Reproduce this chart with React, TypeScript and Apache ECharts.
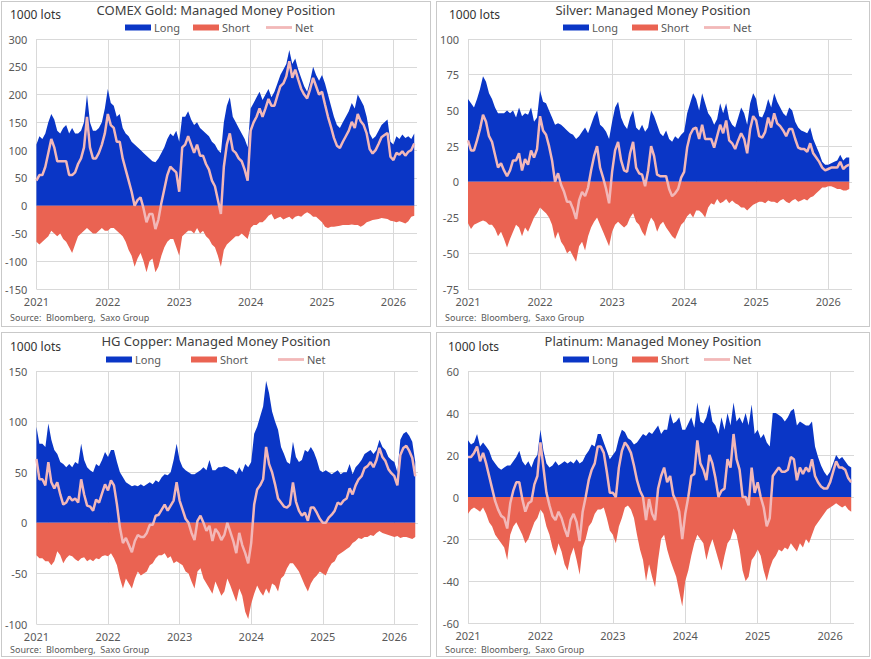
import React, { useEffect, useRef } from "react";
import * as echarts from "echarts";

// Semi-monthly observations (1st and mid-month), Jan 2021 – Apr 2026, in 1000 lots
const FIRST_YEAR = 2021;
const PER_YEAR = 24;
const AXIS_END = 2026.33;

const goldLong = [
  110, 125, 120, 130, 150, 165, 155, 135, 130, 140, 145, 130, 140, 130, 130, 135, 150, 200, 150, 135, 135, 140, 150, 175,
  210, 185, 180, 160, 165, 140, 130, 125, 115, 110, 105, 100, 95, 90, 85, 80, 78, 85, 95, 105, 120, 130, 125, 135,
  115, 160, 160, 170, 155, 145, 150, 140, 135, 130, 125, 115, 110, 100, 95, 150, 180, 195, 160, 150, 140, 130, 120, 105,
  175, 185, 195, 205, 190, 200, 210, 195, 205, 220, 235, 245, 255, 280, 255, 265, 245, 230, 215, 205, 225, 250, 235, 225,
  235, 220, 200, 180, 160, 145, 140, 150, 160, 170, 185, 175, 200, 190, 180, 160, 130, 120, 125, 135, 145, 150, 155, 115,
  110, 125, 120, 128, 122, 125, 120, 130,
];
const goldShort = [
  -65, -70, -65, -60, -55, -45, -50, -55, -50, -60, -65, -75, -85, -70, -55, -50, -45, -40, -45, -50, -50, -45, -40, -45,
  -45, -40, -40, -45, -50, -55, -65, -80, -90, -110, -95, -85, -100, -120, -100, -95, -120, -110, -90, -75, -65, -60, -60, -75,
  -90, -55, -50, -45, -45, -50, -40, -50, -45, -55, -60, -70, -75, -90, -110, -80, -70, -65, -60, -55, -55, -50, -55, -60,
  -40, -35, -35, -30, -30, -25, -18, -15, -25, -22, -20, -25, -22, -20, -25, -20, -18, -20, -15, -12, -15, -20, -20, -25,
  -30, -38, -40, -38, -38, -37, -36, -35, -35, -35, -34, -35, -35, -38, -35, -30, -28, -26, -25, -24, -22, -23, -24, -27,
  -28, -30, -28, -30, -32, -28, -20, -18,
];

const silverLong = [
  58, 55, 52, 58, 65, 74, 70, 62, 58, 52, 48, 48, 48, 50, 48, 50, 45, 52, 46, 48, 47, 52, 42, 45,
  64, 56, 55, 50, 45, 40, 41, 40, 38, 36, 34, 33, 30, 32, 35, 38, 34, 40, 46, 50, 40, 38, 35, 30,
  42, 52, 56, 45, 40, 37, 45, 50, 38, 36, 40, 35, 38, 50, 46, 40, 34, 32, 36, 30, 28, 32, 30, 33,
  35, 48, 55, 62, 58, 50, 62, 55, 48, 45, 40, 44, 55, 48, 55, 44, 40, 38, 45, 52, 48, 40, 55, 62,
  58, 46, 45, 50, 58, 52, 62, 56, 52, 48, 46, 52, 50, 42, 38, 36, 35, 34, 38, 30, 25, 20, 14, 12,
  12, 13, 14, 15, 19, 15, 17, 17,
];
const silverShort = [
  -29, -33, -30, -29, -28, -27, -28, -30, -30, -33, -38, -35, -40, -46, -40, -35, -30, -32, -38, -32, -35, -30, -25, -22,
  -18, -20, -22, -25, -30, -40, -35, -42, -45, -50, -48, -52, -56, -45, -42, -48, -38, -32, -28, -25, -30, -35, -40, -45,
  -35, -30, -28, -30, -32, -30, -25, -22, -28, -30, -35, -38, -30, -25, -28, -35, -30, -28, -32, -35, -38, -40, -35, -30,
  -28, -24, -22, -25, -20, -20, -22, -25, -18, -15, -16, -12, -15, -14, -12, -15, -13, -15, -16, -18, -18, -20, -18, -16,
  -15, -14, -14, -15, -13, -14, -14, -15, -13, -12, -14, -15, -13, -12, -14, -13, -12, -13, -11, -10, -8, -6, -4, -4,
  -3, -3, -4, -5, -5, -6, -6, -5,
];

const copperLong = [
  95, 78, 78, 75, 98, 82, 72, 68, 60, 58, 55, 58, 55, 60, 58, 78, 62, 55, 52, 50, 58, 56, 62, 70,
  65, 72, 72, 60, 50, 45, 40, 38, 36, 37, 36, 38, 36, 38, 40, 38, 42, 40, 45, 48, 47, 50, 62, 78,
  62, 55, 52, 50, 48, 48, 50, 52, 55, 52, 62, 52, 52, 55, 55, 56, 55, 53, 52, 48, 55, 50, 58, 55,
  60, 88, 95, 105, 115, 140, 128, 110, 100, 92, 75, 68, 60, 58, 80, 65, 60, 62, 72, 70, 75, 70, 62, 52,
  50, 52, 50, 48, 50, 52, 48, 50, 50, 58, 48, 55, 58, 62, 68, 70, 72, 68, 72, 82, 75, 72, 65, 62,
  60, 50, 82, 88, 90, 86, 80, 60,
];
const copperShort = [
  -32, -35, -35, -38, -38, -42, -38, -28, -32, -40, -35, -32, -33, -36, -38, -35, -34, -38, -36, -38, -35, -36, -33, -32,
  -33, -30, -35, -42, -55, -65, -55, -60, -65, -55, -48, -52, -50, -48, -42, -40, -35, -32, -32, -30, -35, -33, -40, -38,
  -40, -42, -48, -50, -58, -65, -48, -45, -55, -60, -65, -70, -58, -65, -72, -68, -55, -62, -70, -78, -65, -72, -88, -95,
  -80, -70, -62, -68, -72, -65, -70, -60, -62, -68, -55, -52, -45, -40, -40, -44, -48, -55, -62, -68, -60, -55, -52, -48,
  -50, -52, -45, -40, -38, -32, -30, -28, -26, -24, -20, -18, -15, -16, -14, -14, -12, -13, -10, -8, -10, -11, -12, -13,
  -14, -13, -15, -14, -14, -15, -16, -14,
];

const platinumLong = [
  27, 25, 26, 30, 24, 26, 24, 22, 18, 16, 14, 13, 14, 15, 15, 17, 19, 22, 17, 15, 17, 14, 18, 20,
  32, 22, 16, 14, 15, 17, 15, 16, 17, 16, 17, 16, 18, 16, 17, 20, 22, 25, 24, 30, 30, 26, 22, 18,
  20, 22, 28, 32, 31, 28, 27, 25, 26, 28, 30, 29, 31, 30, 32, 34, 30, 32, 32, 40, 35, 36, 38, 32,
  32, 35, 38, 33, 45, 36, 35, 38, 44, 36, 34, 30, 38, 32, 40, 34, 45, 36, 38, 35, 40, 34, 44, 30,
  32, 28, 30, 26, 24, 40, 40, 39, 38, 36, 38, 41, 42, 34, 36, 35, 34, 34, 36, 24, 19, 15, 12, 10,
  12, 16, 20, 18, 19, 17, 15, 14,
];
const platinumShort = [
  -8, -6, -5, -6, -7, -5, -8, -12, -14, -18, -20, -22, -24, -30, -18, -14, -12, -15, -18, -22, -20, -16, -12, -10,
  -6, -8, -14, -18, -24, -28, -22, -26, -32, -35, -28, -24, -30, -37, -24, -20, -14, -12, -8, -6, -6, -5, -10, -16,
  -18, -22, -14, -10, -5, -4, -6, -10, -18, -25, -30, -40, -32, -38, -43, -30, -20, -18, -25, -30, -34, -38, -45, -52,
  -40, -35, -28, -22, -18, -20, -22, -30, -24, -20, -25, -30, -35, -28, -22, -20, -15, -18, -25, -35, -40, -38, -30, -28,
  -25, -28, -35, -40, -34, -30, -28, -25, -26, -24, -25, -22, -24, -26, -22, -24, -20, -22, -18, -14, -12, -10, -8, -6,
  -5, -4, -3, -4, -5, -4, -6, -7,
];

const SERIES_NAMES = ["Long", "Short", "Net"];
const UNIT_LABEL = "1000 lots";
const SOURCE_LABEL = "Source:  Bloomberg,  Saxo Group";

const LONG_COLOR = "#0a36c6";
const SHORT_COLOR = "#ea6352";
const NET_COLOR = "#f2b8b8";
const GRID_COLOR = "#d9d9d9";
const TEXT_COLOR = "#595959";
const FONT = '"Noto Sans", "Open Sans", Arial, sans-serif';

type PanelCfg = {
  title: string;
  long: number[];
  short: number[];
  yMin: number;
  yMax: number;
  yStep: number;
  box: { x: number; y: number; w: number; h: number };
  grid: { left: number; top: number; width: number; height: number };
  legendLeft: number[];
  legendTop: number;
  unitX: number;
  unitY: number;
  sourceY: number;
};

const PANELS: PanelCfg[] = [
  {
    title: "COMEX Gold: Managed Money Position",
    long: goldLong,
    short: goldShort,
    yMin: -150,
    yMax: 300,
    yStep: 50,
    box: { x: 1, y: 1, w: 430, h: 326 },
    grid: { left: 33, top: 37, width: 382, height: 250 },
    legendLeft: [123, 191, 264],
    legendTop: 20,
    unitX: 8,
    unitY: 14,
    sourceY: 315,
  },
  {
    title: "Silver: Managed Money Position",
    long: silverLong,
    short: silverShort,
    yMin: -75,
    yMax: 100,
    yStep: 25,
    box: { x: 436, y: 1, w: 434, h: 326 },
    grid: { left: 31, top: 37, width: 384, height: 250 },
    legendLeft: [126, 195, 267],
    legendTop: 20,
    unitX: 12,
    unitY: 14,
    sourceY: 315,
  },
  {
    title: "HG Copper: Managed Money Position",
    long: copperLong,
    short: copperShort,
    yMin: -100,
    yMax: 150,
    yStep: 50,
    box: { x: 1, y: 332, w: 430, h: 325 },
    grid: { left: 33, top: 38, width: 383, height: 253 },
    legendLeft: [104, 189, 276],
    legendTop: 21,
    unitX: 8,
    unitY: 15,
    sourceY: 316,
  },
  {
    title: "Platinum: Managed Money Position",
    long: platinumLong,
    short: platinumShort,
    yMin: -60,
    yMax: 60,
    yStep: 20,
    box: { x: 436, y: 332, w: 434, h: 325 },
    grid: { left: 31, top: 38, width: 386, height: 252 },
    legendLeft: [126, 195, 267],
    legendTop: 21,
    unitX: 11,
    unitY: 15,
    sourceY: 316,
  },
];

function buildOption(cfg: PanelCfg) {
  const xs = cfg.long.map((_, i) => FIRST_YEAR + i / PER_YEAR);
  const longData = cfg.long.map((v, i) => [xs[i], v]);
  const shortData = cfg.short.map((v, i) => [xs[i], v]);
  const netData = cfg.long.map((v, i) => [xs[i], v + cfg.short[i]]);

  const legendCommon = {
    top: cfg.legendTop,
    padding: 0,
    itemWidth: 26,
    itemHeight: 6,
    selectedMode: false,
    textStyle: { color: TEXT_COLOR, fontSize: 11, fontFamily: FONT, padding: [0, 0, 0, -2] },
  };
  const icons = ["rect", "rect", "path://M0 0H26V2.8H0Z"];

  return {
    animation: false,
    backgroundColor: "#ffffff",
    textStyle: { fontFamily: FONT },
    title: {
      text: cfg.title,
      left: "center",
      top: 1,
      padding: 0,
      textStyle: { color: "#404040", fontSize: 13, fontWeight: "normal", fontFamily: FONT },
    },
    legend: SERIES_NAMES.map((name, k) => ({
      ...legendCommon,
      left: cfg.legendLeft[k],
      data: [{ name, icon: icons[k] }],
    })),
    grid: { ...cfg.grid, containLabel: false },
    xAxis: {
      type: "value",
      min: FIRST_YEAR,
      max: AXIS_END,
      interval: 1,
      axisLine: { show: false },
      axisTick: { show: false },
      splitLine: { show: true, showMaxLine: false, lineStyle: { color: GRID_COLOR, width: 1 } },
      axisLabel: {
        color: TEXT_COLOR,
        fontSize: 11,
        lineHeight: 13,
        margin: 6,
        formatter: (v: number) => (Math.abs(v - Math.round(v)) < 1e-6 ? String(Math.round(v)) : ""),
      },
    },
    yAxis: {
      type: "value",
      min: cfg.yMin,
      max: cfg.yMax,
      interval: cfg.yStep,
      axisLine: { show: false },
      axisTick: { show: false },
      splitLine: { show: true, lineStyle: { color: GRID_COLOR, width: 1 } },
      axisLabel: { color: TEXT_COLOR, fontSize: 11, margin: 9 },
    },
    graphic: [
      {
        type: "text",
        left: cfg.unitX,
        top: cfg.unitY - 8,
        style: { text: UNIT_LABEL, fill: "#333333", fontSize: 12, fontFamily: FONT },
      },
      {
        type: "text",
        left: 8,
        top: cfg.sourceY - 5.5,
        style: { text: SOURCE_LABEL, fill: TEXT_COLOR, fontSize: 9, lineHeight: 11, fontFamily: FONT },
      },
    ],
    series: [
      {
        name: "Long",
        type: "line",
        data: longData,
        symbol: "none",
        lineStyle: { width: 0 },
        itemStyle: { color: LONG_COLOR },
        areaStyle: { color: LONG_COLOR, opacity: 1 },
        z: 1,
      },
      {
        name: "Short",
        type: "line",
        data: shortData,
        symbol: "none",
        lineStyle: { width: 0 },
        itemStyle: { color: SHORT_COLOR },
        areaStyle: { color: SHORT_COLOR, opacity: 1 },
        z: 1,
      },
      {
        name: "Net",
        type: "line",
        data: netData,
        symbol: "none",
        lineStyle: { width: 2.5, color: NET_COLOR },
        itemStyle: { color: NET_COLOR },
        z: 3,
      },
    ],
  };
}

function Panel({ cfg }: { cfg: PanelCfg }) {
  const ref = useRef<HTMLDivElement>(null);
  useEffect(() => {
    if (!ref.current) return;
    const chart = echarts.init(ref.current, null, { renderer: "svg" });
    chart.setOption(buildOption(cfg) as any);
    return () => chart.dispose();
  }, [cfg]);
  return (
    <div
      style={{
        position: "absolute",
        left: cfg.box.x,
        top: cfg.box.y,
        width: cfg.box.w,
        height: cfg.box.h,
        border: "1px solid #c9c9c9",
        boxSizing: "border-box",
        background: "#fff",
      }}
    >
      <div ref={ref} style={{ width: cfg.box.w - 2, height: cfg.box.h - 2 }} />
    </div>
  );
}

export default function App() {
  return (
    <div
      style={{
        position: "fixed",
        left: 0,
        top: 0,
        width: 871,
        height: 659,
        background: "#ffffff",
        overflow: "hidden",
      }}
    >
      {PANELS.map((p) => (
        <Panel key={p.title} cfg={p} />
      ))}
    </div>
  );
}
